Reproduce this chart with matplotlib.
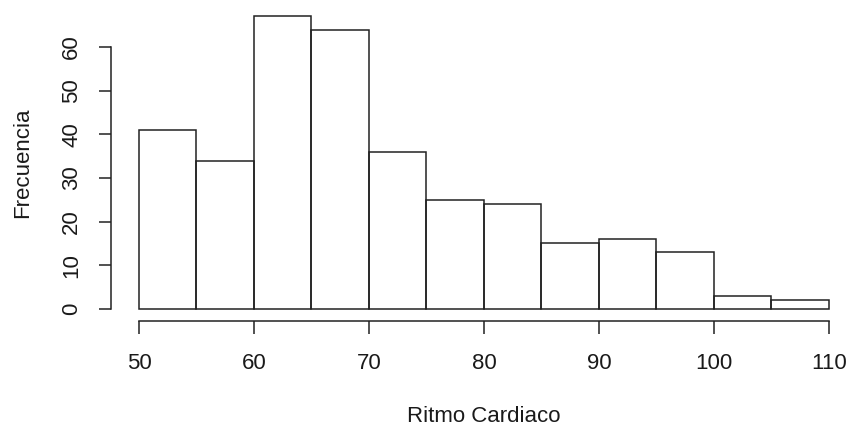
import numpy as np
import matplotlib
matplotlib.use("Agg")
import matplotlib.pyplot as plt

plt.rcParams['font.family'] = ['Liberation Sans', 'DejaVu Sans']

# Histogram of heart rate (bins of 5 bpm)
bin_edges = [50, 55, 60, 65, 70, 75, 80, 85, 90, 95, 100, 105, 110]
counts = [41, 34, 67, 64, 36, 25, 24, 15, 16, 13, 3, 2]
x_ticks = [50, 60, 70, 80, 90, 100, 110]
y_ticks = [0, 10, 20, 30, 40, 50, 60]

W, H = 849, 426
fig = plt.figure(figsize=(W / 100, H / 100), dpi=100)
fig.patch.set_facecolor('white')

# plot region (pixel coordinates of the frame)
px_l, px_r = 111.4, 856.6
px_t, px_b = 4.7, 320.7
ax = fig.add_axes([px_l / W, (H - px_b) / H, (px_r - px_l) / W, (px_b - px_t) / H])

edges = np.array(bin_edges)
ax.bar(edges[:-1], counts, width=np.diff(edges), align='edge',
       fill=False, edgecolor='#222222', linewidth=1.1)

ax.set_xlim(47.6, 112.4)
ax.set_ylim(-2.68, 69.68)

for s in ['top', 'right']:
    ax.spines[s].set_visible(False)
ax.spines['left'].set_bounds(0, 60)
ax.spines['bottom'].set_bounds(50, 110)
for s in ['left', 'bottom']:
    ax.spines[s].set_color('#222222')
    ax.spines[s].set_linewidth(1.1)

ax.set_xticks(x_ticks)
ax.set_yticks(y_ticks)
ax.set_yticklabels([str(v) for v in y_ticks], rotation=90, va='center')
ax.tick_params(axis='x', length=9, width=1.1, color='#222222', pad=14,
               labelsize=16, labelcolor='#1a1a1a')
ax.tick_params(axis='y', length=9, width=1.1, color='#222222', pad=12,
               labelsize=16, labelcolor='#1a1a1a')

ax.set_xlabel('Ritmo Cardiaco', fontsize=16, color='#1a1a1a', labelpad=23)
ax.set_ylabel('Frecuencia', fontsize=16, color='#1a1a1a', labelpad=20)

fig.savefig('out.png', dpi=100, facecolor='white')
